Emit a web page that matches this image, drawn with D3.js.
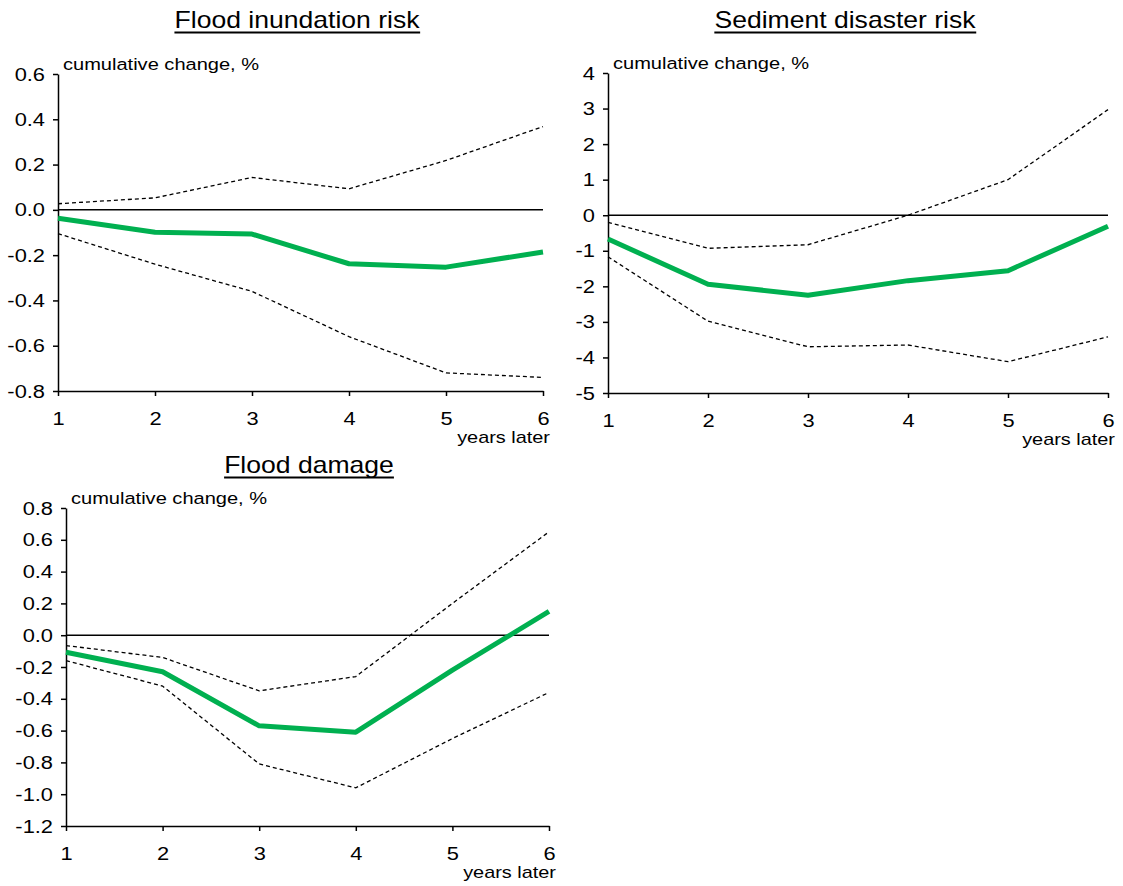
<!DOCTYPE html>
<html><head><meta charset="utf-8">
<script src="https://cdn.jsdelivr.net/npm/d3@7"></script>
<style>body{margin:0;background:#fff}svg{display:block}text{font-family:"Liberation Sans",Arial,sans-serif;fill:#000}</style>
</head><body><svg id="c" width="1123" height="886"></svg>
<script>
const years = [1, 2, 3, 4, 5, 6];
const xTickLabels = ["1", "2", "3", "4", "5", "6"];
const titles = ["Flood inundation risk", "Sediment disaster risk", "Flood damage"];

const floodEst = [-0.037, -0.099, -0.107, -0.238, -0.253, -0.186];
const floodUpper = [0.027, 0.053, 0.143, 0.093, 0.218, 0.368];
const floodLower = [-0.105, -0.24, -0.36, -0.56, -0.72, -0.74];

const sedEst = [-0.67, -1.94, -2.25, -1.84, -1.56, -0.31];
const sedUpper = [-0.2, -0.93, -0.83, 0.0, 1.0, 2.97];
const sedLower = [-1.17, -2.98, -3.7, -3.65, -4.12, -3.42];

const dmgEst = [-0.107, -0.23, -0.57, -0.61, -0.22, 0.15];
const dmgUpper = [-0.065, -0.14, -0.35, -0.26, 0.2, 0.65];
const dmgLower = [-0.16, -0.32, -0.81, -0.96, -0.65, -0.36];

const yTicks1 = [0.6, 0.4, 0.2, 0.0, -0.2, -0.4, -0.6, -0.8];
const yTicks2 = [4, 3, 2, 1, 0, -1, -2, -3, -4, -5];
const yTicks3 = [0.8, 0.6, 0.4, 0.2, 0.0, -0.2, -0.4, -0.6, -0.8, -1.0, -1.2];

const svg = d3.select("#c");
const SX = 1.15;

function stretch(sel, sx) {
  sel.each(function () {
    const t = d3.select(this);
    const x = +t.attr("x") || 0;
    t.attr("transform", `translate(${x * (1 - sx)},0) scale(${sx},1)`);
  });
}
const hy = f => d => f(d).replace("\u2212", "-");

const panels = [
  {title: titles[0], est: floodEst, up: floodUpper, lo: floodLower, ticks: yTicks1, fmt: hy(d3.format(".1f")),
   x0: 58, x1: 543, y0: 74, y1: 391, tx: 297, ty: 28},
  {title: titles[1], est: sedEst, up: sedUpper, lo: sedLower, ticks: yTicks2, fmt: hy(d3.format("d")),
   x0: 608, x1: 1108, y0: 73, y1: 393, tx: 845, ty: 28},
  {title: titles[2], est: dmgEst, up: dmgUpper, lo: dmgLower, ticks: yTicks3, fmt: hy(d3.format(".1f")),
   x0: 66, x1: 549, y0: 508, y1: 826, tx: 309, ty: 473}
];

panels.forEach(p => {
  const ext = d3.extent(p.ticks);
  const x = d3.scaleLinear().domain([1, 6]).range([p.x0, p.x1]);
  const y = d3.scaleLinear().domain([ext[1], ext[0]]).range([p.y0, p.y1]);
  const g = svg.append("g");

  // title
  const t = g.append("text").attr("x", p.tx).attr("y", p.ty).attr("text-anchor", "middle")
    .style("font-size", "23px").text(p.title);
  const bb = t.node().getBBox();
  stretch(t, 1.155);
  const left = p.tx - (p.tx - bb.x) * 1.155;
  g.append("line").attr("x1", left).attr("x2", left + bb.width * 1.155)
    .attr("y1", p.ty + 4.5).attr("y2", p.ty + 4.5).attr("stroke", "#000").attr("stroke-width", 2);

  // y axis
  const ya = g.append("g").attr("transform", `translate(${p.x0},0)`)
    .call(d3.axisLeft(y).tickValues(p.ticks).tickFormat(p.fmt).tickSize(5).tickSizeOuter(0).tickPadding(8));
  ya.selectAll("path, line").attr("stroke", "#000").attr("stroke-width", 1.5);
  ya.selectAll("text").style("font-size", "19px").style("font-family", "Liberation Sans, Arial, sans-serif");
  stretch(ya.selectAll("text"), SX);

  // x axis
  const xa = g.append("g").attr("transform", `translate(0,${p.y1})`)
    .call(d3.axisBottom(x).tickValues(years).tickFormat((d, i) => xTickLabels[i]).tickSize(5).tickSizeOuter(0).tickPadding(16));
  xa.selectAll("path, line").attr("stroke", "#000").attr("stroke-width", 1.5);
  xa.selectAll("text").style("font-size", "19px").style("font-family", "Liberation Sans, Arial, sans-serif");
  stretch(xa.selectAll("text"), SX);

  // zero line
  g.append("line").attr("x1", x(1)).attr("x2", x(6)).attr("y1", y(0)).attr("y2", y(0))
    .attr("stroke", "#000").attr("stroke-width", 1.5);

  const line = d3.line().x((d, i) => x(years[i])).y(d => y(d));
  [p.up, p.lo].forEach(s => {
    g.append("path").datum(s).attr("d", line).attr("fill", "none")
      .attr("stroke", "#000").attr("stroke-width", 1.3).attr("stroke-dasharray", "4,3");
  });
  g.append("path").datum(p.est).attr("d", line).attr("fill", "none")
    .attr("stroke", "#00b050").attr("stroke-width", 5).attr("stroke-linejoin", "round");

  // labels
  const cl = g.append("text").attr("x", p.x0 + 5).attr("y", p.y0 - 4).style("font-size", "17px").text("cumulative change, %");
  stretch(cl, 1.18);
  const yl = g.append("text").attr("x", p.x1 + 7).attr("y", p.y1 + 52).attr("text-anchor", "end").style("font-size", "17px").text("years later");
  stretch(yl, 1.17);
});
</script></body></html>
